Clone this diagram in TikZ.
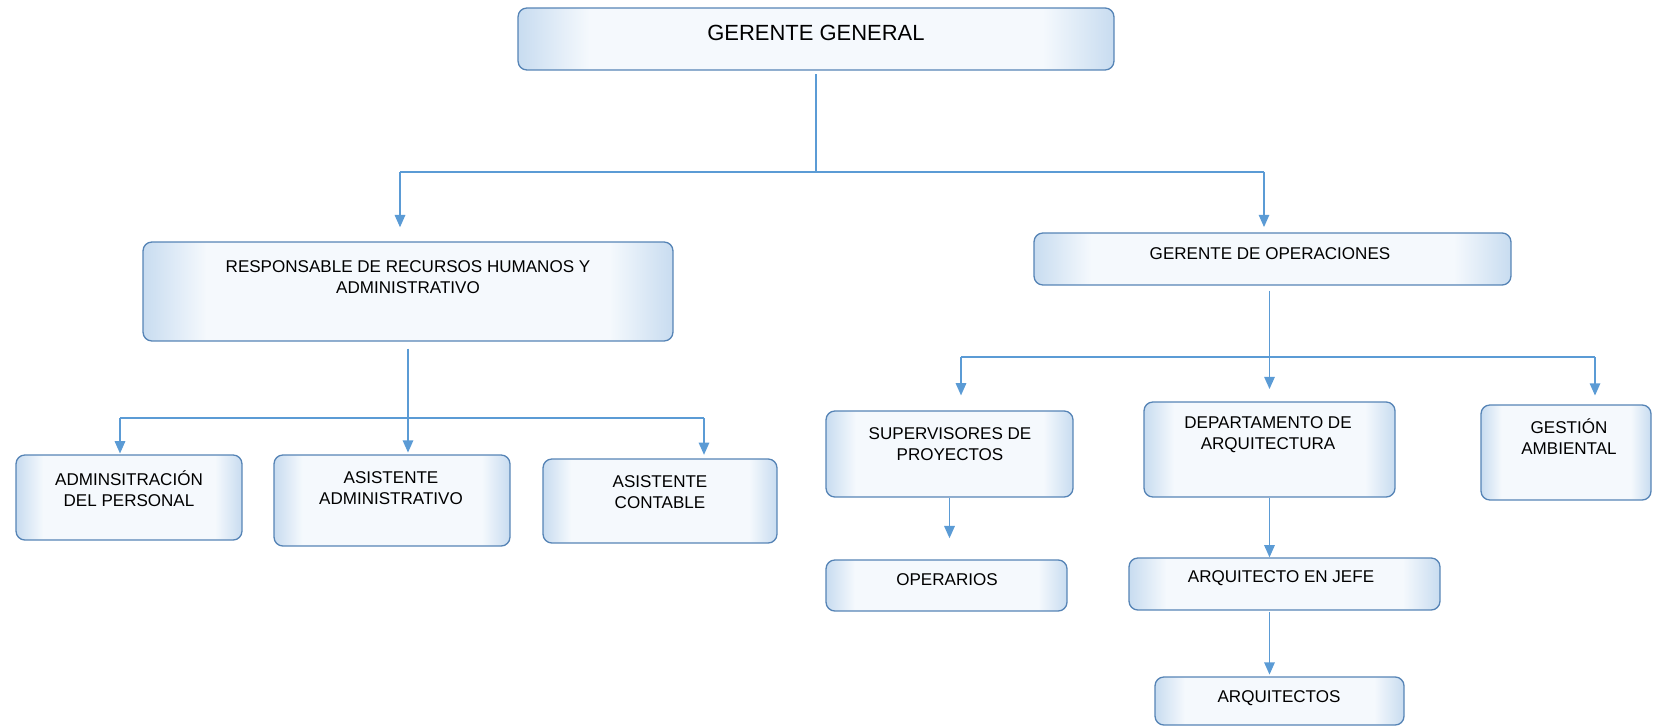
\documentclass[tikz,border=0pt]{standalone}
\usepackage{fontspec}
\setmainfont{Liberation Sans}
\usetikzlibrary{arrows.meta,calc,positioning}

\definecolor{bordecaja}{RGB}{86,132,182}
\definecolor{bordeclaro}{RGB}{200,220,240}
\definecolor{centroclaro}{RGB}{245,249,253}
\definecolor{linea}{RGB}{91,155,213}

\pgfdeclarehorizontalshading{caja}{100bp}{color(0bp)=(bordeclaro); color(25bp)=(bordeclaro); color(31bp)=(centroclaro); color(69bp)=(centroclaro); color(75bp)=(bordeclaro); color(100bp)=(bordeclaro)}

\tikzset{
    cargo/.style={draw=bordecaja, line width=0.75pt, rounded corners=5pt, shading=caja},
    texto/.style={inner sep=0pt, align=center, font=\fontsize{9.7}{12}\selectfont},
    conector/.style={color=linea, line width=0.85pt},
}

\begin{document}
\begin{tikzpicture}[x=0.02cm, y=-0.02cm, >={Triangle[width=6pt,length=7pt]}]
        \useasboundingbox (0,0) rectangle (1653,726);

        % cargos
        \node[cargo, minimum width=11.92cm, minimum height=1.24cm] (gg)   at (816,39)      {};
        \node[cargo, minimum width=10.6cm,  minimum height=1.98cm] (rrhh) at (408,291.5)   {};
        \node[cargo, minimum width=9.54cm,  minimum height=1.04cm] (go)   at (1272.5,259)  {};
        \node[cargo, minimum width=4.52cm,  minimum height=1.7cm]  (adm)  at (129,497.5)   {};
        \node[cargo, minimum width=4.72cm,  minimum height=1.82cm] (asad) at (392,500.5)   {};
        \node[cargo, minimum width=4.68cm,  minimum height=1.68cm] (asco) at (660,501)     {};
        \node[cargo, minimum width=4.94cm,  minimum height=1.72cm] (sup)  at (949.5,454)   {};
        \node[cargo, minimum width=5.02cm,  minimum height=1.9cm]  (dep)  at (1269.5,449.5) {};
        \node[cargo, minimum width=3.4cm,   minimum height=1.9cm]  (gam)  at (1566,452.5)  {};
        \node[cargo, minimum width=4.82cm,  minimum height=1.02cm] (ope)  at (946.5,585.5) {};
        \node[cargo, minimum width=6.22cm,  minimum height=1.04cm] (jefe) at (1284.5,584)  {};
        \node[cargo, minimum width=4.98cm,  minimum height=0.96cm] (arqs) at (1279.5,701)  {};

        % textos
        \node[texto, font=\fontsize{12.5}{15}\selectfont] (ggt) at (816,33) {GERENTE GENERAL};
        \node[texto] (rrhht) at (408,277)    {RESPONSABLE DE RECURSOS HUMANOS Y\\ADMINISTRATIVO};
        \node[texto] (got)   at (1270,254)   {GERENTE DE OPERACIONES};
        \node[texto] (admt)  at (129,489)    {ADMINSITRACIÓN\\DEL PERSONAL};
        \node[texto] (asadt) at (391,488.5)  {ASISTENTE\\ADMINISTRATIVO};
        \node[texto] (ascot) at (660,492)    {ASISTENTE\\CONTABLE};
        \node[texto] (supt)  at (950,444)    {SUPERVISORES DE\\PROYECTOS};
        \node[texto] (dept)  at (1268,434.5) {DEPARTAMENTO DE\\ARQUITECTURA};
        \node[texto] (gamt)  at (1569,437)   {GESTIÓN\\AMBIENTAL};
        \node[texto] (opet)  at (947,580)    {OPERARIOS};
        \node[texto] (jefet) at (1281,578)   {ARQUITECTO EN JEFE};
        \node[texto] (arqst) at (1279,698)   {ARQUITECTOS};

        % barras
        \coordinate (b1l) at (400,172);
        \coordinate (b1r) at (1264,172);
        \coordinate (b2l) at (120,418);
        \coordinate (b2r) at (704,418);
        \coordinate (b3l) at (961,357);
        \coordinate (b3r) at (1595,357);

        \path[conector]
            (gg.south) edge[shorten <=2pt]                  (gg.south |- b1l)
            (b1l) edge                                      (b1r)
            (b1l) edge[->, shorten >=8pt]                   (b1l |- rrhh.north)
            (b1r) edge[->, shorten >=3pt]                   (b1r |- go.north)
            (rrhh.south) edge[->, shorten <=4pt, shorten >=1pt] (rrhh.south |- asad.north)
            (b2l) edge                                      (b2r)
            (b2l) edge[->, shorten >=0.5pt]                 (b2l |- adm.north)
            (b2r) edge[->, shorten >=2pt]                   (b2r |- asco.north)
            (dep.north |- go.south) edge[->, shorten <=3pt, shorten >=7pt] (dep.north)
            (b3l) edge                                      (b3r)
            (b3l) edge[->, shorten >=8.5pt]                 (b3l |- sup.north)
            (b3r) edge[->, shorten >=5pt]                   (b3r |- gam.north)
            (sup.south) edge[->, shorten >=12pt]            (sup.south |- ope.north)
            (dep.south) edge[->]                            (dep.south |- jefe.north)
            (dep.south |- jefe.south) edge[->, shorten <=1pt, shorten >=1pt] (dep.south |- arqs.north)
        ;
\end{tikzpicture}
\end{document}
